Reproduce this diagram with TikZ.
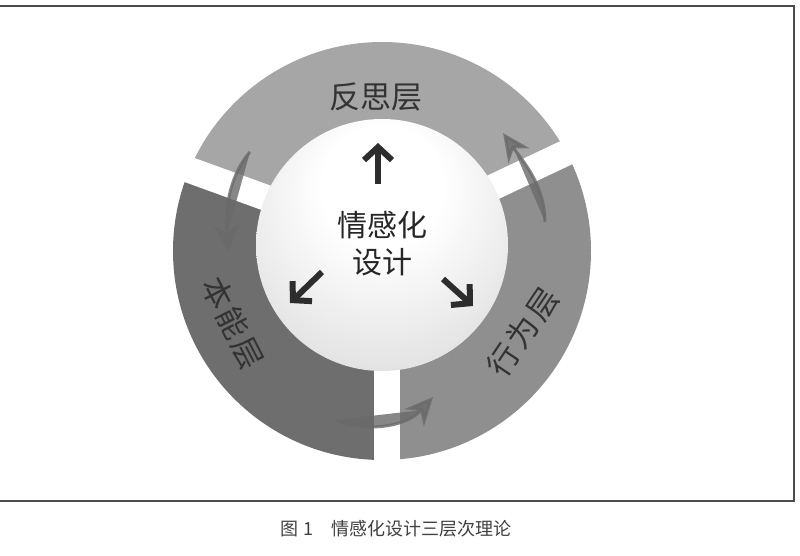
\documentclass[tikz,border=0pt]{standalone}
\usepackage{fontspec}
\usepackage{xcolor}
\usepackage{tikz}
\usetikzlibrary{arrows.meta}
\newfontfamily\cjk{Noto Sans CJK SC}
\definecolor{topseg}{RGB}{166,166,166}
\definecolor{leftseg}{RGB}{110,110,110}
\definecolor{rightseg}{RGB}{143,143,143}
\definecolor{ink}{RGB}{45,45,45}
\definecolor{flow}{RGB}{106,106,106}
\pgfdeclareradialshading{sphereshade}{\pgfpoint{0bp}{14bp}}{color(0bp)=(white); color(12bp)=(white); color(36bp)=(black!13); color(52bp)=(black!25); color(70bp)=(black!32)}

\begin{document}
\begin{tikzpicture}[x=1pt, y=-1pt,
  seglabel/.style={font=\cjk\fontsize{31}{31}\selectfont, text=black!80, inner sep=0pt},
  core/.style={font=\cjk\fontsize{30}{37}\selectfont, align=center, text=black!85},
  sphere/.style={circle, shading=sphereshade, minimum size=252pt, inner sep=0pt},
  pointer/.style={-{Straight Barb[length=13pt, width=28pt]}, line width=6pt, draw=ink},
  flowarrow/.style={-{Stealth[length=28pt, width=26pt]}, line width=3pt, draw=flow, fill=flow, opacity=0.8},
  gap/.style={draw=white, line width=26pt},
  frame/.style={draw=black!70, line width=1.2pt},
  caption/.style={font=\cjk\fontsize{18}{18}\selectfont, text=black!75}
]
\useasboundingbox (0,0) rectangle (800,556);
\draw[frame] (0,6) -- (794,6) -- (794,501) -- (0,501);

% three ring segments
\begin{scope}
  \clip (382,251) circle (209);
  \fill[topseg] (330,221) -- (140,152) -- (140,0) -- (650,0) -- (608,133) -- (430,217) -- cycle;
  \fill[leftseg] (330,221) -- (140,152) -- (100,152) -- (100,520) -- (387,520) -- (387,300) -- cycle;
  \fill[rightseg] (430,217) -- (608,133) -- (700,133) -- (700,520) -- (387,520) -- (387,300) -- cycle;
\end{scope}
\draw[gap] (330,221) -- (140,152);
\draw[gap] (430,217) -- (608,133);
\draw[gap] (387,300) -- (387,480);

% segment labels
\node[seglabel] (reflective) at (376,97) {反思层};
\node[seglabel, rotate=-63] (visceral) at (233,323) {本\hspace{3pt}能\hspace{3pt}层};
\node[seglabel, rotate=56] (behavioral) at (523,332) {行\hspace{3pt}为\hspace{3pt}层};

% flow between the levels
\coordinate (f1a) at (545,222); \coordinate (f1b) at (503,133);
\coordinate (f2a) at (250,152); \coordinate (f2b) at (229,252);
\coordinate (f3a) at (335,420); \coordinate (f3b) at (433,397);
\draw[flowarrow] (f1a) .. controls (545,185) and (522,160) .. (f1b);
\draw[flowarrow] (f2a) .. controls (232,172) and (224,205) .. (f2b);
\draw[flowarrow] (f3a) .. controls (365,432) and (405,428) .. (f3b);

% central sphere
\node[sphere] (ball) at (382,245) {};
\node[core] (core) at (382,244) {情感化\\设计};
\coordinate (upA) at (378,184); \coordinate (upB) at (378,143);
\coordinate (llA) at (322,272); \coordinate (llB) at (290,303);
\coordinate (lrA) at (443,279); \coordinate (lrB) at (473,306);
\draw[pointer] (upA) -- (upB);
\draw[pointer] (llA) -- (llB);
\draw[pointer] (lrA) -- (lrB);

\node[caption] (cap) at (396,529) {图 1\quad 情感化设计三层次理论};
\end{tikzpicture}
\end{document}
